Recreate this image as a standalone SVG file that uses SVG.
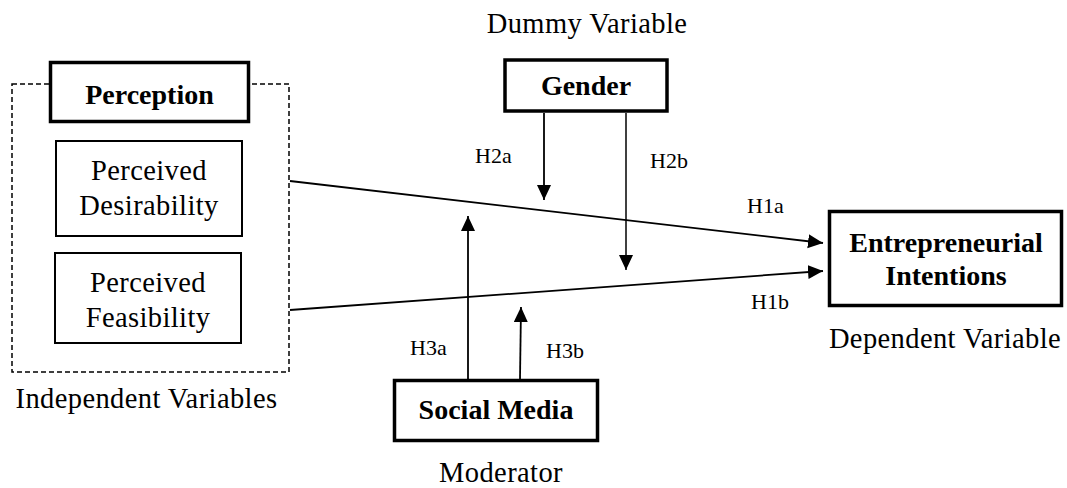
<svg xmlns="http://www.w3.org/2000/svg" width="1067" height="488" viewBox="0 0 1067 488">
<style>
text{font-family:"Liberation Serif","Times New Roman",serif;fill:#000}
.t{font-size:28.5px;letter-spacing:0.4px;text-anchor:middle}
.b{font-size:28px;font-weight:bold;text-anchor:middle}
.h{font-size:22px}
.thick{fill:#fff;stroke:#000;stroke-width:3.5}
.thin{fill:#fff;stroke:#000;stroke-width:2}
.dash{fill:none;stroke:#000;stroke-width:1.5;stroke-dasharray:5 3}
.c{stroke:#000;stroke-width:1.8;fill:none;marker-end:url(#ah)}
</style>
<defs>
<marker id="ah" markerUnits="userSpaceOnUse" markerWidth="16" markerHeight="15" refX="15" refY="7" orient="auto">
<path d="M0,0 L15,7 L0,14 z" fill="#000"/>
</marker>
</defs>
<rect id="groupBox" class="dash" x="12" y="84" width="277" height="288"/>
<g id="connectors">
<line class="c" x1="290" y1="181" x2="823" y2="243"/>
<line class="c" x1="290" y1="310" x2="823" y2="271"/>
<line class="c" x1="544" y1="113" x2="544" y2="200"/>
<line class="c" x1="626" y1="113" x2="626" y2="270" style="stroke-width:1.5"/>
<line class="c" x1="468" y1="379" x2="468" y2="216"/>
<line class="c" x1="520" y1="379" x2="521" y2="307"/>
<text class="h" x="475" y="163">H2a</text>
<text class="h" x="650" y="168">H2b</text>
<text class="h" x="747" y="213">H1a</text>
<text class="h" x="751" y="309">H1b</text>
<text class="h" x="410" y="355">H3a</text>
<text class="h" x="546" y="358">H3b</text>
</g>
<g id="perception">
<rect class="thick" x="50.5" y="62.5" width="198" height="59"/>
<text class="b" x="149.5" y="104">Perception</text>
</g>
<g id="desirability">
<rect class="thin" x="56" y="141" width="186" height="95"/>
<text class="t" x="149" y="180">Perceived</text>
<text class="t" x="149" y="215">Desirability</text>
</g>
<g id="feasibility">
<rect class="thin" x="55" y="253" width="186" height="90"/>
<text class="t" x="148" y="292">Perceived</text>
<text class="t" x="148" y="327">Feasibility</text>
</g>
<g id="independentLabel"><text class="t" x="146.5" y="408">Independent Variables</text></g>
<g id="gender">
<text class="t" x="587" y="33">Dummy Variable</text>
<rect class="thick" x="505" y="60" width="162" height="51"/>
<text class="b" x="586" y="95">Gender</text>
</g>
<g id="intentions">
<rect class="thick" x="829.5" y="211.5" width="232" height="94"/>
<text class="b" x="946" y="252">Entrepreneurial</text>
<text class="b" x="946" y="285">Intentions</text>
<text class="t" x="945" y="348">Dependent Variable</text>
</g>
<g id="socialMedia">
<rect class="thick" x="394.5" y="380.5" width="203" height="60"/>
<text class="b" x="496" y="419">Social Media</text>
<text class="t" x="501" y="482">Moderator</text>
</g>
</svg>
